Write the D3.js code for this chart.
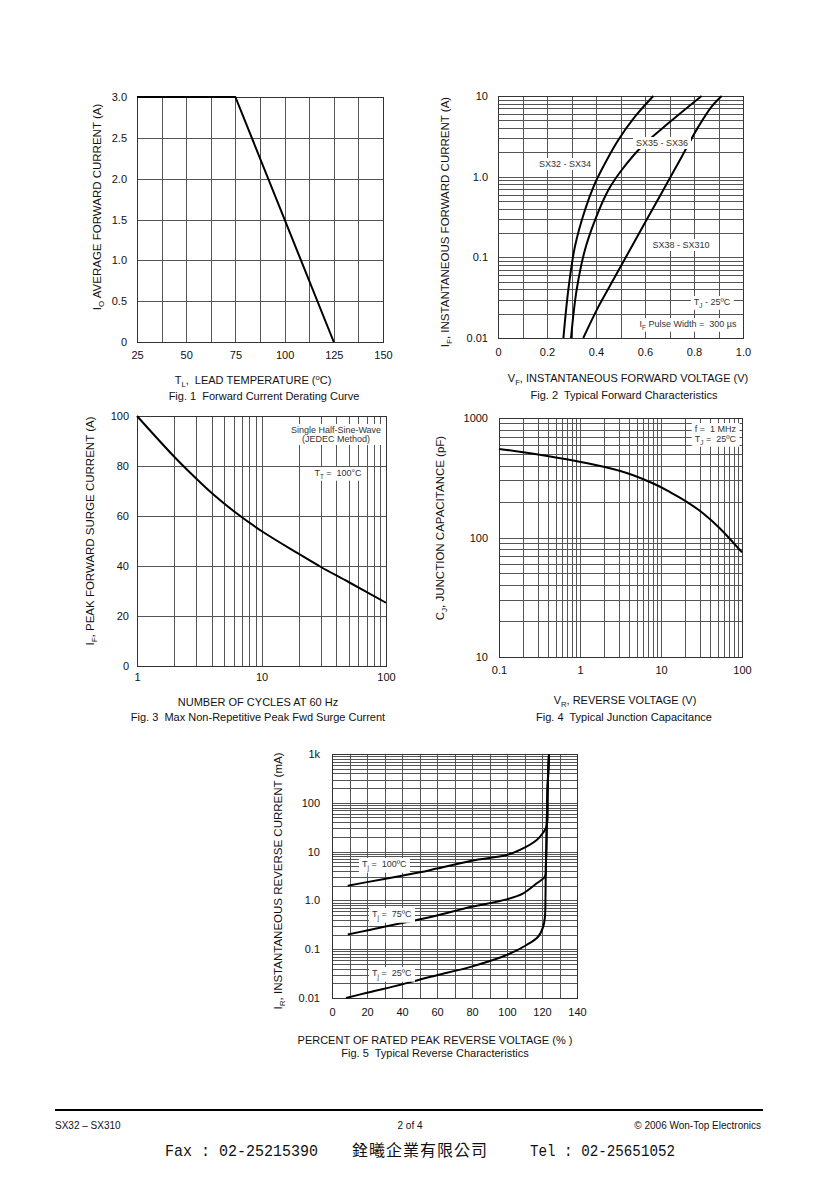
<!DOCTYPE html>
<html><head><meta charset="utf-8">
<script src="https://cdn.jsdelivr.net/npm/d3@7/dist/d3.min.js"></script>
<style>
body{margin:0;background:#fff}
text{font-family:"Liberation Sans",Arial,sans-serif;fill:#111;white-space:pre}
</style>
</head><body>
<svg id="c" width="840" height="1189"></svg>
<script>
// ---------------- DATA ----------------
// Fig.1 Forward current derating
const fig1TempC = [25, 75, 125];
const fig1CurrentA = [3.0, 3.0, 0];
const fig1XTicks = [25, 50, 75, 100, 125, 150];
const fig1YTicks = [0, 0.5, 1.0, 1.5, 2.0, 2.5, 3.0];
const fig1YTickLabels = ["0", "0.5", "1.0", "1.5", "2.0", "2.5", "3.0"];

// Fig.2 Forward characteristics
const fig2Sx32V = [0.267, 0.287, 0.314, 0.355, 0.396, 0.437, 0.491, 0.559, 0.634];
const fig2Sx32I = [0.01, 0.0394, 0.136, 0.386, 0.83, 1.47, 2.85, 5.54, 10];
const fig2Sx35V = [0.298, 0.321, 0.355, 0.396, 0.450, 0.505, 0.586, 0.695, 0.831];
const fig2Sx35I = [0.01, 0.0394, 0.124, 0.29, 0.68, 1.21, 2.35, 4.58, 10];
const fig2Sx38V = [0.348, 0.41, 0.478, 0.546, 0.614, 0.682, 0.75, 0.818, 0.872, 0.913];
const fig2Sx38I = [0.01, 0.0245, 0.0577, 0.136, 0.32, 0.75, 1.77, 4.17, 7.4, 10];
const fig2XTicks = [0, 0.2, 0.4, 0.6, 0.8, 1.0];
const fig2XTickLabels = ["0", "0.2", "0.4", "0.6", "0.8", "1.0"];
const fig2YTicks = [0.01, 0.1, 1, 10];
const fig2YTickLabels = ["0.01", "0.1", "1.0", "10"];

// Fig.3 Surge current
const fig3Cycles = [1, 2, 3, 4, 6, 10, 20, 30, 50, 100];
const fig3PeakA = [100, 83.6, 74.9, 69.1, 61.9, 54.0, 44.8, 39.6, 33.6, 25.3];
const fig3XTicks = [1, 10, 100];
const fig3XTickLabels = ["1", "10", "100"];
const fig3YTicks = [0, 20, 40, 60, 80, 100];

// Fig.4 Junction capacitance
const fig4Volts = [0.1, 0.2, 1.46, 3.77, 8.04, 12.9, 20.8, 33.3, 53.5, 100];
const fig4CapPF = [551, 516, 408, 347, 283, 240, 199, 159, 119, 75];
const fig4XTicks = [0.1, 1, 10, 100];
const fig4XTickLabels = ["0.1", "1", "10", "100"];
const fig4YTicks = [10, 100, 1000];
const fig4YTickLabels = ["10", "100", "1000"];

// Fig.5 Reverse characteristics
const fig5T100Pct = [9, 20, 40, 50.3, 60, 79.8, 99.8, 107.4, 117, 120.5, 122.7, 123.2, 124];
const fig5T100mA = [2.0, 2.37, 3.2, 3.76, 4.5, 6.5, 8.5, 10.8, 17.3, 24, 34, 200, 1000];
const fig5T75Pct = [9, 20, 40, 50.3, 60, 79.8, 99.8, 109.3, 117, 121.7, 122.2, 122.5, 122.7, 123.2, 124];
const fig5T75mA = [0.2, 0.242, 0.343, 0.41, 0.49, 0.74, 1.05, 1.4, 2.24, 3.08, 5, 12, 34, 200, 1000];
const fig5T25Pct = [8, 20, 40, 50.3, 60, 79.8, 99.8, 111.2, 117.9, 120.7, 121.7, 122.0, 122.2, 122.5, 122.7, 123.2, 124];
const fig5T25mA = [0.01, 0.0128, 0.019, 0.024, 0.0293, 0.044, 0.076, 0.122, 0.182, 0.29, 0.47, 1.2, 5, 12, 34, 200, 1000];
const fig5XTicks = [0, 20, 40, 60, 80, 100, 120, 140];
const fig5YTicks = [0.01, 0.1, 1, 10, 100, 1000];
const fig5YTickLabels = ["0.01", "0.1", "1.0", "10", "100", "1k"];

// ---------------- DRAWING ----------------
const svg = d3.select("#c");
const FONT = "Liberation Sans, Arial, sans-serif";

function logGrid(lo, hi) {
  const out = [];
  for (let e = Math.round(Math.log10(lo)); e < Math.round(Math.log10(hi)); e++) {
    for (let m = 1; m <= 9; m++) out.push(m * Math.pow(10, e));
  }
  out.push(hi);
  return out;
}
function linGrid(lo, hi, step) {
  const out = []; const n = Math.round((hi - lo) / step);
  for (let i = 0; i <= n; i++) out.push(lo + i * step);
  return out;
}

function panel(p) {
  const g = svg.append("g");
  const [L, R] = p.x.range(); const [B, T] = p.y.range();
  g.append("g").attr("transform", `translate(0,${B})`)
    .call(d3.axisBottom(p.x).tickValues(p.vgrid).tickSize(-(B - T)).tickFormat(""))
    .call(a => a.select(".domain").remove())
    .call(a => a.selectAll("line").attr("stroke", "#555").attr("stroke-width", 1).attr("shape-rendering", "crispEdges"));
  g.append("g").attr("transform", `translate(${L},0)`)
    .call(d3.axisLeft(p.y).tickValues(p.hgrid).tickSize(-(R - L)).tickFormat(""))
    .call(a => a.select(".domain").remove())
    .call(a => a.selectAll("line").attr("stroke", "#555").attr("stroke-width", 1).attr("shape-rendering", "crispEdges"));
  g.append("rect").attr("x", L).attr("y", T).attr("width", R - L).attr("height", B - T)
    .attr("fill", "none").attr("stroke", "#333").attr("stroke-width", 1).attr("shape-rendering", "crispEdges");
  g.append("g").attr("transform", `translate(0,${B})`)
    .call(d3.axisBottom(p.x).tickValues(p.xticks).tickSize(0).tickPadding(p.xpad)
      .tickFormat((d, i) => p.xlabels[i]))
    .call(a => a.select(".domain").remove())
    .call(a => a.selectAll("text").attr("font-family", FONT).attr("font-size", 11).attr("fill", "#111"));
  g.append("g").attr("transform", `translate(${L},0)`)
    .call(d3.axisLeft(p.y).tickValues(p.yticks).tickSize(0).tickPadding(p.ypad)
      .tickFormat((d, i) => p.ylabels[i]))
    .call(a => a.select(".domain").remove())
    .call(a => a.selectAll("text").attr("font-family", FONT).attr("font-size", 11).attr("fill", "#111"));
  return g;
}

function curve(g, p, xs, ys, c) {
  const pts = xs.map((v, i) => [v, ys[i]]);
  g.append("path").datum(pts)
    .attr("d", d3.line().x(d => p.x(d[0])).y(d => p.y(d[1])).curve(c || d3.curveCatmullRom.alpha(0.5)))
    .attr("fill", "none").attr("stroke", "#000").attr("stroke-width", 2).attr("stroke-linejoin", "round");
}

function richText(parent, parts, size) {
  const t = parent.append("text").attr("font-size", size);
  let pending = 0;
  parts.forEach(pt => {
    if (typeof pt === "string") {
      const s = t.append("tspan").text(pt);
      if (pending) { s.attr("dy", pending); pending = 0; }
    } else {
      const off = pt.sub ? size * 0.3 : -size * 0.4;
      t.append("tspan").attr("font-size", size * 0.7).attr("dy", off + pending).text(pt.sub || pt.sup);
      pending = -off;
    }
  });
  return t;
}
function yLabel(cx, cy, parts) {
  const g = svg.append("g").attr("transform", `translate(${cx + 4},${cy}) rotate(-90)`);
  richText(g, parts, 11.5).attr("text-anchor", "middle");
}
function xLabel(cx, by, parts) {
  richText(svg.append("g"), parts, 11).attr("x", cx).attr("y", by).attr("text-anchor", "middle");
}
function note(cx, lines, anchor) {
  const g = svg.append("g");
  const ts = lines.map(ln => richText(g, ln.parts, 9)
    .attr("x", cx).attr("y", ln.y).attr("text-anchor", anchor || "middle").style("fill", "#333"));
  let x0 = 1e9, y0 = 1e9, x1 = -1e9, y1 = -1e9;
  ts.forEach(t => { const b = t.node().getBBox(); x0 = Math.min(x0, b.x); y0 = Math.min(y0, b.y); x1 = Math.max(x1, b.x + b.width); y1 = Math.max(y1, b.y + b.height); });
  g.insert("rect", "text").attr("x", x0 - 3).attr("y", y0 - 1).attr("width", x1 - x0 + 6).attr("height", y1 - y0 + 2).attr("fill", "#fff");
}

// ---- Fig 1 ----
{
  const p = {
    x: d3.scaleLinear().domain([25, 150]).range([137, 383]),
    y: d3.scaleLinear().domain([0, 3]).range([342, 97]),
    vgrid: linGrid(25, 150, 12.5), hgrid: linGrid(0, 3, 0.5),
    xticks: fig1XTicks, xlabels: fig1XTicks.map(String), xpad: 9,
    yticks: fig1YTicks, ylabels: fig1YTickLabels, ypad: 10
  };
  const g = panel(p);
  curve(g, p, fig1TempC, fig1CurrentA, d3.curveLinear);
  yLabel(97, 207, ["I", { sub: "O" }, " AVERAGE FORWARD CURRENT (A)"]);
  xLabel(253, 384, ["T", { sub: "L" }, ",  LEAD TEMPERATURE (", { sup: "o" }, "C)"]);
  xLabel(264, 400, ["Fig. 1  Forward Current Derating Curve"]);
}
// ---- Fig 2 ----
{
  const p = {
    x: d3.scaleLinear().domain([0, 1]).range([498, 743]),
    y: d3.scaleLog().domain([0.01, 10]).range([338, 96]),
    vgrid: linGrid(0, 1, 0.1), hgrid: logGrid(0.01, 10),
    xticks: fig2XTicks, xlabels: fig2XTickLabels, xpad: 10,
    yticks: fig2YTicks, ylabels: fig2YTickLabels, ypad: 10
  };
  const g = panel(p);
  curve(g, p, fig2Sx32V, fig2Sx32I);
  curve(g, p, fig2Sx35V, fig2Sx35I);
  curve(g, p, fig2Sx38V, fig2Sx38I);
  yLabel(445, 222, ["I", { sub: "F" }, ", INSTANTANEOUS FORWARD CURRENT (A)"]);
  xLabel(628, 382, ["V", { sub: "F" }, ", INSTANTANEOUS FORWARD VOLTAGE (V)"]);
  xLabel(624, 399, ["Fig. 2  Typical Forward Characteristics"]);
  note(565, [{ y: 167, parts: ["SX32 - SX34"] }]);
  note(662, [{ y: 146, parts: ["SX35 - SX36"] }]);
  note(681, [{ y: 248, parts: ["SX38 - SX310"] }]);
  note(712, [{ y: 305, parts: ["T", { sub: "J" }, " - 25ºC"] }]);
  note(688, [{ y: 327, parts: ["I", { sub: "F" }, " Pulse Width =  300 µs"] }]);
}
// ---- Fig 3 ----
{
  const p = {
    x: d3.scaleLog().domain([1, 100]).range([137, 386]),
    y: d3.scaleLinear().domain([0, 100]).range([666, 416]),
    vgrid: logGrid(1, 100), hgrid: linGrid(0, 100, 20),
    xticks: fig3XTicks, xlabels: fig3XTickLabels, xpad: 7,
    yticks: fig3YTicks, ylabels: fig3YTicks.map(String), ypad: 8
  };
  const g = panel(p);
  curve(g, p, fig3Cycles, fig3PeakA);
  yLabel(90, 531, ["I", { sub: "F" }, ", PEAK FORWARD SURGE CURRENT (A)"]);
  xLabel(258, 706, ["NUMBER OF CYCLES AT 60 Hz"]);
  xLabel(258, 721, ["Fig. 3  Max Non-Repetitive Peak Fwd Surge Current"]);
  note(336, [{ y: 433, parts: ["Single Half-Sine-Wave"] }, { y: 442, parts: ["(JEDEC Method)"] }]);
  note(338, [{ y: 476, parts: ["T", { sub: "T" }, " =  100°C"] }]);
}
// ---- Fig 4 ----
{
  const p = {
    x: d3.scaleLog().domain([0.1, 100]).range([499, 742]),
    y: d3.scaleLog().domain([10, 1000]).range([657, 418]),
    vgrid: logGrid(0.1, 100), hgrid: logGrid(10, 1000),
    xticks: fig4XTicks, xlabels: fig4XTickLabels, xpad: 9,
    yticks: fig4YTicks, ylabels: fig4YTickLabels, ypad: 11
  };
  const g = panel(p);
  curve(g, p, fig4Volts, fig4CapPF);
  yLabel(440, 528, ["C", { sub: "J" }, ", JUNCTION CAPACITANCE (pF)"]);
  xLabel(625, 704, ["V", { sub: "R" }, ", REVERSE VOLTAGE (V)"]);
  xLabel(624, 721, ["Fig. 4  Typical Junction Capacitance"]);
  note(736, [{ y: 432, parts: ["f =  1 MHz"] }, { y: 442, parts: ["T", { sub: "J" }, " =  25ºC"] }], "end");
}
// ---- Fig 5 ----
{
  const p = {
    x: d3.scaleLinear().domain([0, 140]).range([332, 577]),
    y: d3.scaleLog().domain([0.01, 1000]).range([998, 754]),
    vgrid: linGrid(0, 140, 10), hgrid: logGrid(0.01, 1000),
    xticks: fig5XTicks, xlabels: fig5XTicks.map(String), xpad: 10,
    yticks: fig5YTicks, ylabels: fig5YTickLabels, ypad: 12
  };
  const g = panel(p);
  curve(g, p, fig5T100Pct, fig5T100mA);
  curve(g, p, fig5T75Pct, fig5T75mA);
  curve(g, p, fig5T25Pct, fig5T25mA);
  yLabel(278, 881, ["I", { sub: "R" }, ", INSTANTANEOUS REVERSE CURRENT (mA)"]);
  xLabel(435, 1044, ["PERCENT OF RATED PEAK REVERSE VOLTAGE (% )"]);
  xLabel(435, 1057, ["Fig. 5  Typical Reverse Characteristics"]);
  note(362, [{ y: 867, parts: ["T", { sub: "j" }, " =  100ºC"] }], "start");
  note(372, [{ y: 917, parts: ["T", { sub: "j" }, " =  75ºC"] }], "start");
  note(372, [{ y: 976, parts: ["T", { sub: "j" }, " =  25ºC"] }], "start");
}

// ---- Footer ----
svg.append("line").attr("x1", 55).attr("x2", 763).attr("y1", 1110).attr("y2", 1110).attr("stroke", "#000").attr("stroke-width", 2);
svg.append("text").attr("x", 55).attr("y", 1129).attr("font-size", 10).text("SX32 – SX310");
svg.append("text").attr("x", 410).attr("y", 1129).attr("font-size", 10).attr("text-anchor", "middle").text("2 of 4");
svg.append("text").attr("x", 761).attr("y", 1129).attr("font-size", 10).attr("text-anchor", "end").text("© 2006 Won-Top Electronics");
svg.append("text").attr("x", 165).attr("y", 1156).attr("font-size", 17).style("font-family", "'Liberation Mono', monospace")
  .attr("textLength", 153).attr("lengthAdjust", "spacingAndGlyphs").text("Fax : 02-25215390");
svg.append("text").attr("x", 352).attr("y", 1156).attr("font-size", 16).style("font-family", "'Noto Sans CJK TC', sans-serif")
  .attr("textLength", 135).attr("lengthAdjust", "spacing").text("銓曦企業有限公司");
svg.append("text").attr("x", 530).attr("y", 1156).attr("font-size", 17).style("font-family", "'Liberation Mono', monospace")
  .attr("textLength", 145).attr("lengthAdjust", "spacingAndGlyphs").text("Tel : 02-25651052");
</script>
</body></html>
